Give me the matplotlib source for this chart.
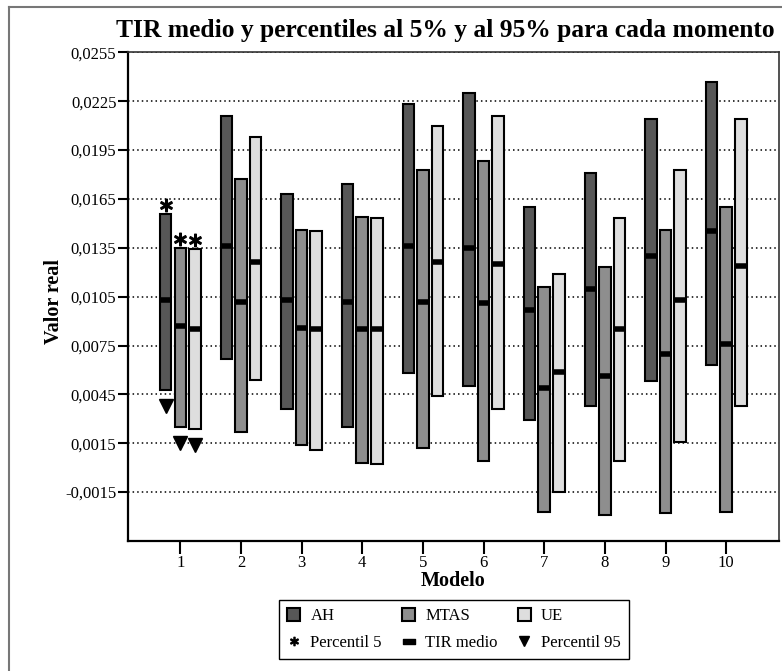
import numpy as np
import matplotlib
matplotlib.use('Agg')
import matplotlib.pyplot as plt
from matplotlib.patches import Patch
from matplotlib.lines import Line2D
from matplotlib.path import Path
import matplotlib.transforms as mtransforms

plt.rcParams['font.family'] = ['Liberation Serif', 'DejaVu Serif']

# datos (percentil 5 arriba, media, percentil 95 abajo)
modelos = [1, 2, 3, 4, 5, 6, 7, 8, 9, 10]
series = ['AH', 'MTAS', 'UE']

ah_top = [0.0156, 0.0216, 0.0168, 0.0174, 0.0223, 0.0230, 0.0160, 0.0181, 0.0214, 0.0237]
ah_mean = [0.0103, 0.0136, 0.0103, 0.0102, 0.0136, 0.0135, 0.0097, 0.0110, 0.0130, 0.0145]
ah_bot = [0.0048, 0.0067, 0.0036, 0.0025, 0.0058, 0.0050, 0.0029, 0.0038, 0.0053, 0.0063]

mtas_top = [0.0135, 0.0177, 0.0146, 0.0154, 0.0183, 0.0188, 0.0111, 0.0123, 0.0146, 0.0160]
mtas_mean = [0.0087, 0.0102, 0.0086, 0.0085, 0.0102, 0.0101, 0.0049, 0.0056, 0.0070, 0.0076]
mtas_bot = [0.0025, 0.0022, 0.0014, 0.0003, 0.0012, 0.0004, -0.0027, -0.0029, -0.0028, -0.0027]

ue_top = [0.0134, 0.0203, 0.0145, 0.0153, 0.0210, 0.0216, 0.0119, 0.0153, 0.0183, 0.0214]
ue_mean = [0.0085, 0.0126, 0.0085, 0.0085, 0.0126, 0.0125, 0.0059, 0.0085, 0.0103, 0.0124]
ue_bot = [0.0024, 0.0054, 0.0011, 0.0002, 0.0044, 0.0036, -0.0015, 0.0004, 0.0016, 0.0038]

yticks = [-0.0015, 0.0015, 0.0045, 0.0075, 0.0105, 0.0135, 0.0165, 0.0195, 0.0225, 0.0255]

colores = ['#575757', '#8e8e8e', '#dedede']
offsets = [-0.24, 0.0, 0.24]
ancho = 0.19

fig = plt.figure(figsize=(7.82, 6.71), dpi=100)
ax = fig.add_axes([127.5/782, 1-541/671, (779-127.5)/782, (541-52.3)/671])

x = np.array(modelos, dtype=float)
datos = [(ah_top, ah_mean, ah_bot), (mtas_top, mtas_mean, mtas_bot), (ue_top, ue_mean, ue_bot)]
for (top, mean, bot), off, col in zip(datos, offsets, colores):
    top = np.array(top); bot = np.array(bot)
    xs = x + off
    ax.bar(xs, top - bot, bottom=bot, width=ancho, color=col, edgecolor='black',
           linewidth=1.5, zorder=3)
    ax.hlines(mean, xs - ancho/2, xs + ancho/2, colors='black', linewidth=4,
              capstyle='butt', zorder=4)

# marcas de percentiles solo en el modelo 1
up = mtransforms.offset_copy(ax.transData, fig=fig, x=0, y=9, units='dots')
down = mtransforms.offset_copy(ax.transData, fig=fig, x=0, y=-16, units='dots')
for (top, mean, bot), off in zip(datos, offsets):
    ax.plot(x[0] + off, top[0], ls='none', marker=r'$\ast$', color='black',
            markersize=9, transform=up, zorder=5, clip_on=False)
    ax.plot(x[0] + off, bot[0], ls='none', marker='v', color='black',
            markersize=10, transform=down, zorder=5, clip_on=False)

ax.set_xlim(0.13, 10.87)
ax.set_ylim(-0.0045, 0.0255)
ax.set_xticks(modelos)
ax.set_xticklabels([str(m) for m in modelos])
ax.set_yticks(yticks)
ax.set_yticklabels([f'{v:.4f}'.replace('.', ',') for v in yticks])
ax.tick_params(axis='both', labelsize=12, width=1.5, direction='out', colors='black')
ax.tick_params(axis='y', length=7, pad=1)
ax.tick_params(axis='x', length=9, pad=1)

ax.grid(axis='y', color='black', linestyle=(0, (1, 2)), linewidth=1.1)
ax.set_axisbelow(True)
for s in ['left', 'bottom']:
    ax.spines[s].set_linewidth(1.6)
    ax.spines[s].set_color('black')
for s in ['top', 'right']:
    ax.spines[s].set_linewidth(1.2)
    ax.spines[s].set_color('#333333')

ax.set_ylabel('Valor real', fontsize=14.5, fontweight='bold')
ax.yaxis.set_label_coords(-0.098, 0.49)
ax.set_xlabel('Modelo', fontsize=14.5, fontweight='bold')
ax.xaxis.set_label_coords(0.5, -0.062)

fig.text(445/782, 1-30/671, 'TIR medio y percentiles al 5% y al 95% para cada momento',
         ha='center', va='center', fontsize=18.4, fontweight='bold')

# leyenda
barra = Path([(-1, -0.4), (1, -0.4), (1, 0.4), (-1, 0.4), (-1, -0.4)],
             [Path.MOVETO, Path.LINETO, Path.LINETO, Path.LINETO, Path.CLOSEPOLY])
handles = [Patch(facecolor=colores[0], edgecolor='black', linewidth=1.5),
           Line2D([], [], ls='none', marker=r'$\ast$', color='black', markersize=6),
           Patch(facecolor=colores[1], edgecolor='black', linewidth=1.5),
           Line2D([], [], ls='none', marker=barra, color='black', markersize=9),
           Patch(facecolor=colores[2], edgecolor='black', linewidth=1.5),
           Line2D([], [], ls='none', marker='v', color='black', markersize=7)]
labels = ['AH', 'Percentil 5', 'MTAS', 'TIR medio', 'UE', 'Percentil 95']
leg = fig.legend(handles, labels, ncol=3, loc='upper center',
                 bbox_to_anchor=(454/782, 1-600/671), fontsize=12, frameon=True,
                 fancybox=False, edgecolor='black', framealpha=1,
                 handlelength=0.8, handleheight=0.8, handletextpad=0.6,
                 columnspacing=1.2, labelspacing=0.6, borderpad=0.5,
                 borderaxespad=0)
leg.get_frame().set_linewidth(1.0)

# marco exterior (solo lados izquierdo y superior visibles)
fig.add_artist(Line2D([9/782, 9/782], [0, 1-7/671], color='#777777', lw=1.5,
                      transform=fig.transFigure))
fig.add_artist(Line2D([9/782, 1], [1-7/671, 1-7/671], color='#777777', lw=1.5,
                      transform=fig.transFigure))

fig.savefig('out.png', dpi=100)
